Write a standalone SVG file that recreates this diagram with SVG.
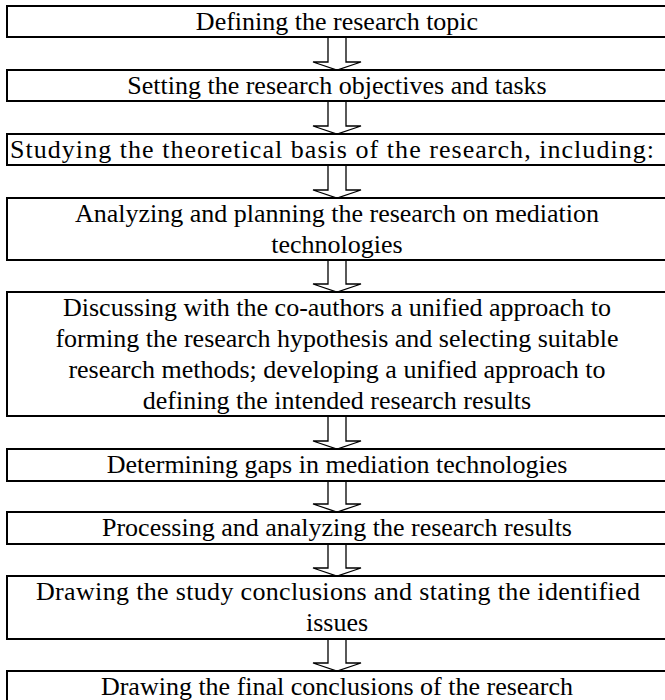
<svg xmlns="http://www.w3.org/2000/svg" width="665" height="700" viewBox="0 0 665 700">
  <defs>
    <style>
      .box { fill: #ffffff; stroke: #000000; stroke-width: 2; }
      .lbl { font-family: "Liberation Serif", "Times New Roman", serif; font-size: 26px; fill: #000000; text-anchor: middle; }
      .arr { fill: #ffffff; stroke: #000000; stroke-width: 1.3; stroke-linejoin: miter; }
    </style>
  </defs>
  <rect x="0" y="0" width="665" height="700" fill="#ffffff"/>

  <g id="connectors">
    <path class="arr" d="M328,37 V62 H313 L337,70 L361,62 H346 V37 Z"/>
    <path class="arr" d="M328,101 V126 H313 L337,134 L361,126 H346 V101 Z"/>
    <path class="arr" d="M328,165 V190 H313 L337,198 L361,190 H346 V165 Z"/>
    <path class="arr" d="M328,260 V284 H313 L337,292 L361,284 H346 V260 Z"/>
    <path class="arr" d="M328,416 V441 H313 L337,449 L361,441 H346 V416 Z"/>
    <path class="arr" d="M328,481 V504 H313 L337,512 L361,504 H346 V481 Z"/>
    <path class="arr" d="M328,544 V568 H313 L337,576 L361,568 H346 V544 Z"/>
    <path class="arr" d="M328,639 V663 H313 L337,671 L361,663 H346 V639 Z"/>
  </g>

  <g id="node1">
    <rect class="box" x="7" y="6" width="662" height="31"/>
    <text class="lbl" x="337" y="30">Defining the research topic</text>
  </g>
  <g id="node2">
    <rect class="box" x="7" y="70" width="662" height="31"/>
    <text class="lbl" x="337" y="94">Setting the research objectives and tasks</text>
  </g>
  <g id="node3">
    <rect class="box" x="7" y="134" width="662" height="31"/>
    <text class="lbl" x="332" y="158" textLength="644" lengthAdjust="spacing">Studying the theoretical basis of the research, including:</text>
  </g>
  <g id="node4">
    <rect class="box" x="7" y="198" width="662" height="62"/>
    <text class="lbl" x="337" y="222">Analyzing and planning the research on mediation</text>
    <text class="lbl" x="337" y="253">technologies</text>
  </g>
  <g id="node5">
    <rect class="box" x="7" y="292" width="662" height="124"/>
    <text class="lbl" x="337" y="316">Discussing with the co-authors a unified approach to</text>
    <text class="lbl" x="337" y="347">forming the research hypothesis and selecting suitable</text>
    <text class="lbl" x="337" y="378">research methods; developing a unified approach to</text>
    <text class="lbl" x="337" y="409">defining the intended research results</text>
  </g>
  <g id="node6">
    <rect class="box" x="7" y="449" width="662" height="32"/>
    <text class="lbl" x="337" y="473">Determining gaps in mediation technologies</text>
  </g>
  <g id="node7">
    <rect class="box" x="7" y="512" width="662" height="32"/>
    <text class="lbl" x="337" y="536">Processing and analyzing the research results</text>
  </g>
  <g id="node8">
    <rect class="box" x="7" y="576" width="662" height="63"/>
    <text class="lbl" x="338" y="600" textLength="604" lengthAdjust="spacing">Drawing the study conclusions and stating the identified</text>
    <text class="lbl" x="337" y="631">issues</text>
  </g>
  <g id="node9">
    <rect class="box" x="7" y="671" width="662" height="32"/>
    <text class="lbl" x="337" y="695">Drawing the final conclusions of the research</text>
  </g>
</svg>
